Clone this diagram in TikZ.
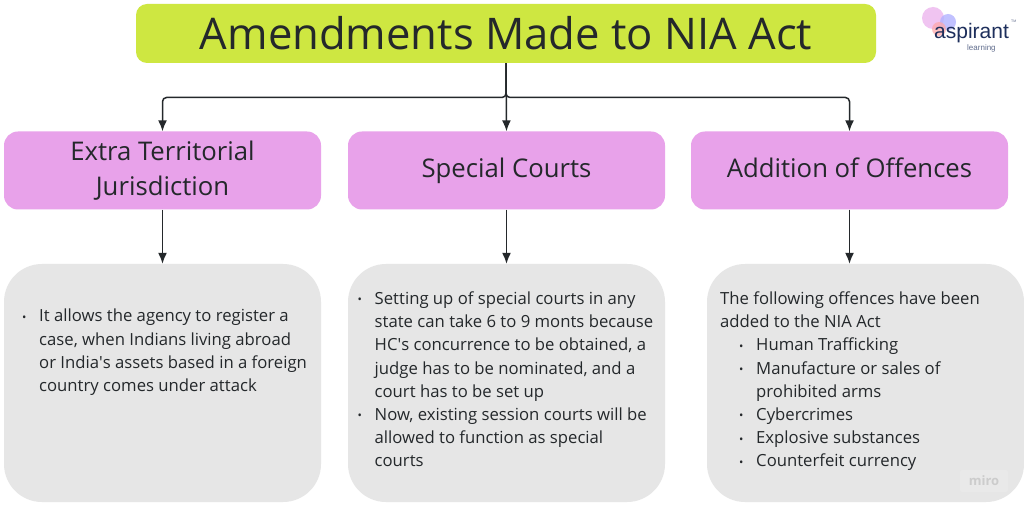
\documentclass[tikz,border=0pt]{standalone}
\usepackage{fontspec}
\setmainfont{Open Sans}
\newfontfamily\logofont{Liberation Sans}
\usetikzlibrary{arrows.meta}
\definecolor{titlegreen}{HTML}{CEE741}
\definecolor{headpink}{HTML}{E8A2EA}
\definecolor{bodygray}{HTML}{E6E6E6}
\definecolor{inktext}{HTML}{24282B}
\definecolor{logoblue}{HTML}{1E2F5C}
\newcommand{\bul}{\makebox[18pt][l]{\hspace{.8pt}\raisebox{.6pt}{\fontsize{11.5}{11.5}\selectfont\textbullet}}}
\tikzset{
  x=1pt,y=-1pt,
  titlebox/.style={fill=titlegreen,rounded corners=11pt,minimum width=740pt,minimum height=59pt,inner sep=0pt,font=\fontsize{43.6}{48}\selectfont,text=inktext},
  headbox/.style={fill=headpink,rounded corners=14pt,minimum width=317pt,minimum height=78pt,inner sep=0pt,align=center,font=\fontsize{25.7}{35}\selectfont,text=inktext},
  bodybox/.style={fill=bodygray,rounded corners=38pt,minimum width=317pt,minimum height=238pt,inner sep=0pt},
  bodytext/.style={inner sep=0pt,align=left,anchor=north west,font=\fontsize{16.7}{23.2}\selectfont,text=inktext},
  conn/.style={draw=inktext,line width=1.5pt,-{Latex[length=11pt,width=9pt]}},
}
\begin{document}
\begin{tikzpicture}
\useasboundingbox (0,0) rectangle (1024,510);
\fill[white] (0,0) rectangle (1024,510);
\node[titlebox] (title) at (506,33.5) {Amendments Made to NIA Act};
\node[headbox] (extra) at (162.5,170.5) {Extra Territorial\\Jurisdiction};
\node[headbox] (courts) at (506.5,170.5) {\rule[-6.5pt]{0pt}{22pt}Special Courts};
\node[headbox] (offences) at (849.5,170.5) {\rule[-6.5pt]{0pt}{22pt}Addition of Offences};
\node[bodybox] (body1) at (162.5,383) {};
\node[bodybox] (body2) at (506.5,383) {};
\node[bodybox] (body3) at (865.5,383) {};
\coordinate (j) at (506,97.5);
\draw[conn,rounded corners=4pt] (title.south) -- (j) -- (j -| extra.north) -- (extra.north);
\draw[conn,rounded corners=4pt] (title.south) -- (j) -- (j -| offences.north) -- (offences.north);
\draw[conn] (title.south) -- (courts.north);
\draw[conn] (extra.south) -- (body1.north);
\draw[conn] (courts.south) -- (body2.north);
\draw[conn] (offences.south) -- (offences.south |- body3.north);
\node[bodytext] (t1) at (21,309) {\bul It allows the agency to register a\\
\hspace*{18pt}case, when Indians living abroad\\
\hspace*{18pt}or India\textquotesingle s assets based in a foreign\\
\hspace*{18pt}country comes under attack};
\node[bodytext] (t2) at (356.5,291.5) {\bul Setting up of special courts in any\\
\hspace*{18pt}state can take 6 to 9 monts because\\
\hspace*{18pt}HC\textquotesingle s concurrence to be obtained, a\\
\hspace*{18pt}judge has to be nominated, and a\\
\hspace*{18pt}court has to be set up\\
\bul Now, existing session courts will be\\
\hspace*{18pt}allowed to function as special\\
\hspace*{18pt}courts};
\node[bodytext] (t3) at (720,291.5) {The following offences have been\\
added to the NIA Act\\
\hspace*{18pt}\bul Human Trafficking\\
\hspace*{18pt}\bul Manufacture or sales of\\
\hspace*{36pt}prohibited arms\\
\hspace*{18pt}\bul Cybercrimes\\
\hspace*{18pt}\bul Explosive substances\\
\hspace*{18pt}\bul Counterfeit currency};
% miro watermark
\fill[white,opacity=.12,rounded corners=2pt] (960,470) rectangle (1008,492);
\node[inner sep=0pt,text=black!20,font=\fontsize{13}{13}\selectfont\bfseries] (miro) at (984,481) {miro};
% logo
\fill[headpink!70!white,opacity=.9] (933,18) circle (11pt);
\fill[blue!30!white,opacity=.8] (948,22) circle (8pt);
\fill[red!35!white,opacity=.7] (939,29) circle (7pt);
\node[inner sep=0pt,anchor=base west,text=logoblue,font=\logofont\fontsize{21}{21}\selectfont] (logoa) at (934,39) {aspirant};
\node[inner sep=0pt,anchor=base west,text=logoblue!70,font=\logofont\fontsize{8}{8}\selectfont] (logob) at (967,50.5) {learning};
\node[inner sep=0pt,anchor=base west,text=logoblue!70,font=\logofont\fontsize{3.5}{4}\selectfont] (logoc) at (1011,23) {TM};
\end{tikzpicture}
\end{document}
